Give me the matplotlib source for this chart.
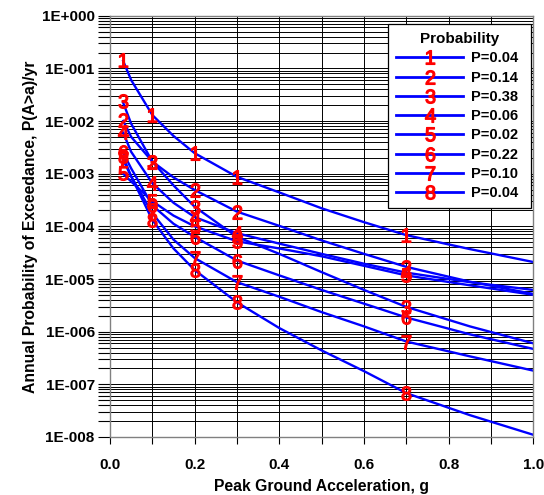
import matplotlib
matplotlib.use("Agg")
import matplotlib.pyplot as plt
from matplotlib.lines import Line2D
from matplotlib.ticker import LogLocator, MultipleLocator, NullFormatter, FuncFormatter
import numpy as np

plt.rcParams['font.family'] = ['Liberation Sans', 'DejaVu Sans']
plt.rcParams['mathtext.fontset'] = 'custom'
plt.rcParams['mathtext.rm'] = 'Liberation Sans'
plt.rcParams['mathtext.it'] = 'Liberation Sans'
plt.rcParams['mathtext.bf'] = 'Liberation Sans:bold'

# Data
pga = [0.03, 0.05, 0.1, 0.15, 0.2, 0.3, 0.4, 0.5, 0.6, 0.7, 0.85, 1.0]
curve1 = [1.45e-1, 6.0e-2, 1.3e-2, 5.2e-3, 2.45e-3, 8.7e-4, 4.4e-4, 2.2e-4, 1.2e-4, 6.8e-5, 3.7e-5, 2.1e-5]
curve2 = [1.05e-2, 5.0e-3, 1.7e-3, 8.5e-4, 4.9e-4, 1.9e-4, 1.02e-4, 5.4e-5, 3.0e-5, 1.7e-5, 8.9e-6, 5.2e-6]
curve3 = [2.35e-2, 8.9e-3, 1.7e-3, 6.0e-4, 2.35e-4, 6.3e-5, 3.0e-5, 1.35e-5, 6.2e-6, 2.95e-6, 1.26e-6, 6.0e-7]
curve4 = [6.3e-3, 2.6e-3, 6.6e-4, 2.8e-4, 1.5e-4, 7.4e-5, 4.7e-5, 3.0e-5, 1.95e-5, 1.32e-5, 8.7e-6, 6.2e-6]
curve5 = [1.02e-3, 7.1e-4, 3.0e-4, 1.6e-4, 1.0e-4, 5.2e-5, 3.8e-5, 2.7e-5, 1.78e-5, 1.17e-5, 7.6e-6, 5.0e-6]
curve6 = [2.6e-3, 1.26e-3, 2.5e-4, 1.12e-4, 6.3e-5, 2.24e-5, 1.17e-5, 6.2e-6, 3.4e-6, 1.86e-6, 8.9e-7, 4.7e-7]
curve7 = [1.9e-3, 8.9e-4, 1.78e-4, 5.6e-5, 2.5e-5, 8.7e-6, 4.6e-6, 2.35e-6, 1.26e-6, 6.5e-7, 3.4e-7, 1.82e-7]
curve8 = [2.2e-3, 8.9e-4, 1.32e-4, 3.8e-5, 1.48e-5, 3.6e-6, 1.17e-6, 4.4e-7, 1.78e-7, 6.8e-8, 2.6e-8, 1.1e-8]
curves = [curve1, curve2, curve3, curve4, curve5, curve6, curve7, curve8]
curve_ids = ['1', '2', '3', '4', '5', '6', '7', '8']
probabilities = ['P=0.04', 'P=0.14', 'P=0.38', 'P=0.06', 'P=0.02', 'P=0.22', 'P=0.10', 'P=0.04']
label_idx = [0, 2, 4, 5, 9]

blue = '#0000FF'
red = '#FF0000'

fig = plt.figure(figsize=(5.44, 4.95), dpi=100)
ax = fig.add_axes([0.2022, 0.1172, 0.7782, 0.8511])

for cid, vals in zip(curve_ids, curves):
    ax.plot(pga, vals, color=blue, lw=1.7, zorder=2, solid_capstyle='butt')
for cid, vals in zip(curve_ids, curves):
    ax.plot([pga[i] for i in label_idx], [vals[i] for i in label_idx], linestyle='none',
            marker='$%s$' % cid, markersize=10, markerfacecolor=red, markeredgecolor=red,
            markeredgewidth=0.9, zorder=3)

ax.set_yscale('log')
ax.set_xlim(0, 1.0)
ax.set_ylim(1e-8, 1.0)

ax.xaxis.set_major_locator(MultipleLocator(0.2))
ax.xaxis.set_minor_locator(MultipleLocator(0.1))
ax.xaxis.set_major_formatter(FuncFormatter(lambda v, p: '%.1f' % v))
ax.yaxis.set_major_locator(LogLocator(base=10, numticks=20))
ax.yaxis.set_minor_locator(LogLocator(base=10, subs=np.arange(2, 10), numticks=20))
ax.yaxis.set_minor_formatter(NullFormatter())

def yfmt(v, p):
    e = int(round(np.log10(v)))
    sign = '+' if e >= 0 else '-'
    return '1E%s%03d' % (sign, abs(e))
ax.yaxis.set_major_formatter(FuncFormatter(yfmt))

ax.grid(True, which='both', color='black', lw=0.7, zorder=1)
ax.set_axisbelow(True)
for s in ax.spines.values():
    s.set_color('#808080')
    s.set_linewidth(1.0)

ax.tick_params(axis='x', which='both', direction='out', length=5, width=0.8, pad=10,
               labelsize=11, color='black')
ax.tick_params(axis='y', which='both', direction='out', length=9, width=0.8, pad=2,
               labelsize=11, color='black')
for lab in ax.get_xticklabels() + ax.get_yticklabels():
    lab.set_fontweight('bold')

ax.set_xlabel('Peak Ground Acceleration, g', fontsize=11.3, fontweight='bold', labelpad=5)
ax.set_ylabel('Annual Probability of Exceedance, P(A>a)/yr', fontsize=11.3,
              fontweight='bold', labelpad=3)

handles = [Line2D([], [], color=blue, lw=2.0, marker='$%s$' % cid, markersize=10,
                  markerfacecolor=red, markeredgecolor=red, markeredgewidth=0.9)
           for cid in curve_ids]
leg = ax.legend(handles, probabilities, title='Probability', loc='upper left',
                bbox_to_anchor=(0.657, 0.558, 0.338, 0.422), mode='expand',
                borderaxespad=0, fancybox=False,
                framealpha=1, edgecolor='black', handlelength=4.6, handletextpad=0.5,
                labelspacing=0.36, numpoints=1, borderpad=0.55,
                prop={'weight': 'bold', 'size': 10.5},
                title_fontproperties={'weight': 'bold', 'size': 11})
leg.get_frame().set_linewidth(0.9)
leg.set_zorder(5)

fig.savefig('out.png', dpi=100)
